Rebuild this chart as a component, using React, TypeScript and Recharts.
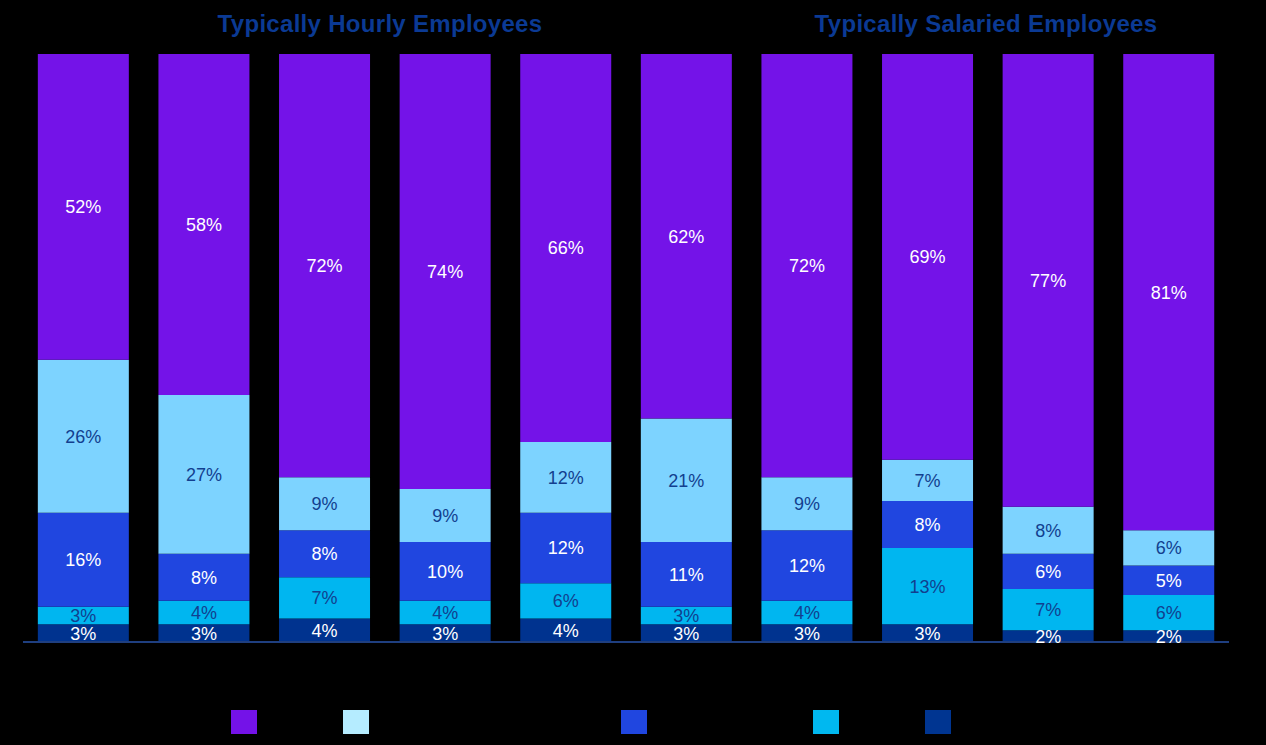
import React from 'react';
import { BarChart, Bar, XAxis, YAxis, LabelList } from 'recharts';

// stacked from the bottom up: navy, cyan, blue, light blue, purple
const categories = ['1', '2', '3', '4', '5', '6', '7', '8', '9', '10'];
const navyValues = [3, 3, 4, 3, 4, 3, 3, 3, 2, 2];
const cyanValues = [3, 4, 7, 4, 6, 3, 4, 13, 7, 6];
const blueValues = [16, 8, 8, 10, 12, 11, 12, 8, 6, 5];
const lightValues = [26, 27, 9, 9, 12, 21, 9, 7, 8, 6];
const purpleValues = [52, 58, 72, 74, 66, 62, 72, 69, 77, 81];

const groupTitles = ['Typically Hourly Employees', 'Typically Salaried Employees'];

const data = categories.map((c, i) => ({
  name: c,
  navy: navyValues[i],
  cyan: cyanValues[i],
  blue: blueValues[i],
  light: lightValues[i],
  purple: purpleValues[i],
}));

const DARK_LABEL = '#123f8f';
const WHITE = '#ffffff';

const series = [
  { key: 'navy', color: '#00338f', swatch: '#003591', label: WHITE },
  { key: 'cyan', color: '#00b6f0', swatch: '#00b8f0', label: DARK_LABEL },
  { key: 'blue', color: '#2046e0', swatch: '#2046e0', label: WHITE },
  { key: 'light', color: '#7dd3ff', swatch: '#b5ecff', label: DARK_LABEL },
  { key: 'purple', color: '#7413e8', swatch: '#7412e8', label: WHITE },
];

// legend swatch left edges, in legend order (purple first)
const legendOrder = ['purple', 'light', 'blue', 'cyan', 'navy'];
const legendX = [231, 343, 621, 813, 925];

const font = '"Liberation Sans", Arial, sans-serif';

const titleStyle: React.CSSProperties = {
  position: 'absolute',
  top: 10,
  textAlign: 'center',
  fontFamily: font,
  fontWeight: 'bold',
  fontSize: 24,
  letterSpacing: 0.3,
  color: '#0b3a94',
};

export default function App() {
  return (
    <div style={{ position: 'relative', width: 1266, height: 745, background: '#000' }}>
      <style>{'body{margin:0;background:#000}'}</style>
      <div style={{ ...titleStyle, left: 0, width: 760 }}>{groupTitles[0]}</div>
      <div style={{ ...titleStyle, left: 760, width: 452 }}>{groupTitles[1]}</div>
      <BarChart
        width={1266}
        height={745}
        data={data}
        margin={{ top: 54, right: 37, bottom: 73, left: 23 }}
        barCategoryGap="12.3%"
      >
        <XAxis
          dataKey="name"
          tick={false}
          tickLine={false}
          height={30}
          axisLine={{ stroke: '#1f3f80', strokeWidth: 2 }}
        />
        <YAxis hide domain={[0, 100]} />
        {series.map((s) => (
          <Bar key={s.key} dataKey={s.key} stackId="a" fill={s.color} isAnimationActive={false}>
            <LabelList
              dataKey={s.key}
              position="center"
              formatter={(v: any) => `${v}%`}
              style={{ fill: s.label, fontSize: 18, fontFamily: font }}
            />
          </Bar>
        ))}
      </BarChart>
      {legendOrder.map((k, i) => {
        const s = series.find((x) => x.key === k)!;
        return (
          <div
            key={k}
            style={{
              position: 'absolute',
              left: legendX[i],
              top: 710,
              width: 26,
              height: 24,
              background: s.swatch,
            }}
          />
        );
      })}
    </div>
  );
}
